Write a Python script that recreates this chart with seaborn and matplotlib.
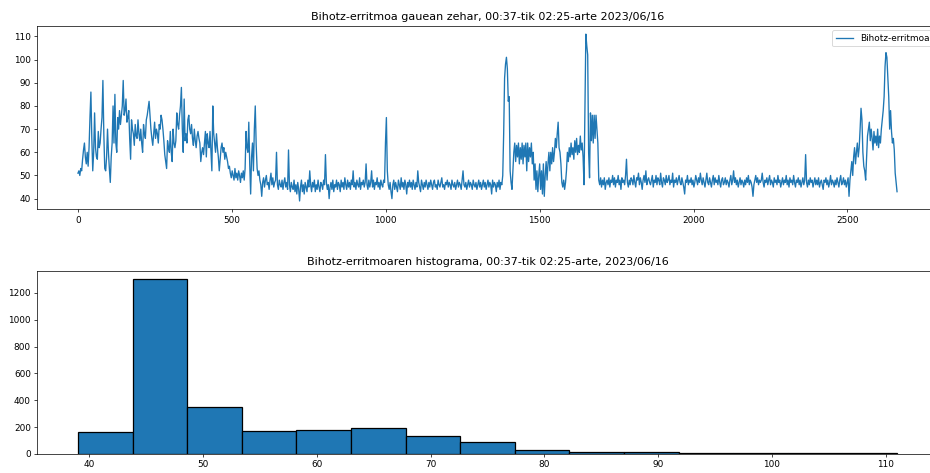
import numpy as np
import pandas as pd
import matplotlib
matplotlib.use("Agg")
import matplotlib.pyplot as plt
import seaborn as sns

# Heart-rate readings (bpm), one value every `sample_step` samples,
# 20 readings (60 samples) per row
sample_step = 3
heart_rate = [
    51, 52, 50, 53, 52, 57, 61, 64, 58, 55, 60, 54, 62, 75, 86, 66, 52, 60, 77, 62,
    58, 57, 69, 62, 64, 70, 75, 91, 68, 53, 52, 58, 70, 60, 53, 47, 58, 64, 80, 64,
    85, 64, 60, 75, 70, 78, 72, 76, 80, 91, 76, 78, 83, 73, 75, 78, 66, 57, 74, 70,
    68, 63, 72, 67, 66, 74, 68, 65, 70, 64, 60, 72, 68, 66, 74, 76, 79, 82, 76, 70,
    66, 63, 68, 73, 66, 70, 68, 64, 72, 70, 76, 74, 70, 65, 59, 56, 53, 65, 62, 60,
    69, 60, 56, 70, 64, 62, 65, 77, 72, 70, 76, 80, 88, 70, 60, 83, 65, 68, 64, 74,
    76, 70, 68, 72, 66, 63, 70, 65, 62, 67, 69, 66, 64, 56, 60, 62, 59, 64, 69, 58,
    68, 64, 62, 69, 60, 52, 80, 68, 64, 60, 68, 62, 58, 52, 57, 62, 64, 60, 62, 57,
    60, 58, 56, 53, 54, 51, 49, 52, 50, 48, 53, 49, 51, 48, 52, 50, 47, 51, 49, 52,
    48, 53, 69, 62, 60, 73, 55, 42, 58, 64, 52, 70, 80, 63, 53, 50, 52, 48, 46, 41,
    47, 49, 45, 48, 50, 46, 47, 44, 48, 51, 46, 49, 45, 47, 48, 60, 46, 44, 48, 46,
    45, 48, 44, 47, 49, 45, 47, 44, 61, 46, 43, 47, 45, 44, 48, 43, 46, 42, 47, 44,
    39, 45, 48, 43, 46, 42, 47, 45, 43, 48, 45, 52, 46, 43, 47, 45, 48, 43, 46, 44,
    48, 45, 43, 47, 46, 44, 48, 46, 59, 47, 44, 46, 40, 45, 47, 44, 48, 43, 46, 45,
    48, 44, 47, 46, 43, 48, 45, 47, 44, 49, 46, 44, 48, 45, 47, 44, 48, 46, 52, 45,
    47, 44, 48, 46, 45, 49, 44, 47, 46, 48, 45, 47, 55, 46, 44, 48, 45, 47, 52, 45,
    48, 44, 47, 46, 49, 45, 47, 44, 48, 46, 45, 48, 47, 64, 75, 52, 46, 44, 47, 43,
    40, 46, 48, 44, 47, 45, 43, 48, 46, 44, 49, 45, 47, 44, 48, 46, 42, 47, 45, 48,
    45, 47, 44, 48, 46, 44, 47, 45, 52, 47, 45, 43, 48, 46, 44, 47, 45, 48, 46, 44,
    47, 45, 48, 46, 44, 47, 48, 45, 46, 44, 48, 46, 45, 47, 49, 45, 46, 44, 47, 46,
    48, 45, 47, 46, 44, 48, 46, 45, 47, 44, 46, 48, 45, 47, 46, 44, 48, 52, 46, 45,
    47, 44, 46, 48, 45, 47, 46, 44, 48, 46, 45, 47, 44, 46, 48, 45, 47, 44, 46, 48,
    45, 47, 44, 46, 48, 45, 47, 46, 42, 48, 45, 47, 46, 43, 47, 45, 48, 44, 47, 46,
    50, 68, 92, 98, 101, 96, 82, 84, 52, 47, 44, 52, 60, 64, 56, 63, 58, 64, 55, 62,
    57, 64, 55, 63, 58, 64, 52, 64, 56, 62, 58, 64, 55, 60, 48, 55, 44, 52, 43, 50,
    55, 44, 52, 42, 55, 41, 50, 56, 48, 55, 60, 52, 60, 55, 62, 56, 60, 66, 62, 68,
    73, 62, 60, 55, 47, 45, 48, 44, 47, 52, 60, 56, 62, 58, 64, 59, 62, 57, 65, 60,
    66, 59, 63, 60, 67, 61, 64, 58, 46, 80, 111, 106, 102, 60, 49, 77, 65, 76, 64, 76,
    66, 76, 70, 64, 48, 46, 49, 45, 48, 46, 49, 44, 47, 48, 46, 49, 45, 48, 47, 50,
    46, 49, 45, 48, 47, 50, 46, 48, 44, 49, 47, 48, 46, 50, 57, 47, 45, 48, 46, 49,
    48, 46, 50, 47, 45, 49, 48, 51, 46, 49, 47, 44, 48, 50, 47, 52, 46, 48, 49, 47,
    46, 48, 50, 45, 48, 47, 50, 46, 49, 48, 46, 51, 47, 45, 49, 48, 46, 50, 47, 48,
    50, 46, 48, 47, 51, 45, 48, 47, 49, 46, 48, 50, 47, 46, 49, 47, 45, 42, 48, 47,
    50, 46, 48, 47, 49, 46, 48, 45, 47, 50, 48, 46, 49, 47, 51, 48, 46, 49, 47, 45,
    48, 51, 47, 46, 49, 47, 45, 48, 50, 46, 49, 47, 48, 46, 50, 47, 45, 48, 49, 46,
    47, 49, 46, 48, 47, 45, 48, 50, 46, 48, 52, 47, 49, 46, 48, 45, 47, 49, 46, 48,
    47, 45, 48, 46, 49, 47, 50, 46, 48, 47, 45, 41, 46, 48, 50, 47, 49, 46, 48, 47,
    48, 51, 47, 45, 48, 47, 49, 46, 48, 50, 46, 48, 47, 45, 49, 47, 48, 46, 50, 47,
    48, 45, 47, 49, 46, 48, 47, 50, 46, 48, 45, 49, 47, 48, 46, 50, 47, 45, 48, 47,
    49, 46, 48, 45, 47, 49, 46, 48, 59, 47, 45, 48, 46, 49, 47, 48, 45, 47, 49, 46,
    48, 46, 49, 45, 47, 48, 46, 44, 48, 47, 49, 46, 48, 45, 47, 50, 46, 48, 47, 45,
    48, 46, 49, 47, 45, 48, 50, 46, 47, 49, 46, 48, 45, 47, 49, 41, 48, 52, 56, 50,
    58, 62, 55, 60, 64, 58, 62, 70, 79, 74, 60, 54, 52, 48, 58, 67, 70, 73, 65, 70,
    66, 61, 69, 64, 67, 63, 70, 62, 67, 64, 70, 74, 78, 84, 97, 103, 101, 92, 84, 70,
    78, 69, 64, 66, 61, 51, 47, 43,
]

# Histogram of the same night: 15 equal bins between 39 and 111 bpm
bin_edges = [39.0, 43.8, 48.6, 53.4, 58.2, 63.0, 67.8, 72.6, 77.4,
             82.2, 87.0, 91.8, 96.6, 101.4, 106.2, 111.0]
bin_counts = [166, 1300, 347, 171, 176, 191, 136, 92, 32, 14, 13, 9, 5, 5, 5]

title_line = "Bihotz-erritmoa gauean zehar, 00:37-tik 02:25-arte 2023/06/16"
title_hist = "Bihotz-erritmoaren histograma, 00:37-tik 02:25-arte, 2023/06/16"
series_label = "Bihotz-erritmoa"

k = 0.64
plt.rcParams.update({
    "font.family": ["DejaVu Sans"],
    "font.size": 10 * k,
    "axes.titlesize": 8.0,
    "axes.titlepad": 6 * k,
    "axes.linewidth": 0.8 * k,
    "lines.linewidth": 1.5 * k,
    "legend.fontsize": 10 * k,
    "xtick.major.size": 3.5 * k,
    "ytick.major.size": 3.5 * k,
    "xtick.major.width": 0.8 * k,
    "ytick.major.width": 0.8 * k,
    "xtick.major.pad": 3.5 * k,
    "ytick.major.pad": 3.5 * k,
    "patch.linewidth": 1.0 * k,
})

fig = plt.figure(figsize=(9.3, 4.73), dpi=100)
ax1 = fig.add_axes([0.0398, 0.5575, 0.9688, 0.388])
ax2 = fig.add_axes([0.0398, 0.0402, 0.9688, 0.3875])

df = pd.DataFrame({
    "sample": np.arange(len(heart_rate)) * sample_step,
    "bpm": heart_rate,
})
sns.lineplot(data=df, x="sample", y="bpm", ax=ax1, color="#1f77b4",
             label=series_label)
ax1.set_xlabel("")
ax1.set_ylabel("")
ax1.set_title(title_line)
ax1.legend(loc="upper right")

centers = (np.array(bin_edges[:-1]) + np.array(bin_edges[1:])) / 2
sns.histplot(x=centers, weights=bin_counts, bins=bin_edges, ax=ax2,
             color="#1f77b4", edgecolor="black", alpha=1.0, linewidth=0.9)
ax2.set_xlabel("")
ax2.set_ylabel("")
ax2.set_title(title_hist)

fig.savefig("out.png", dpi=100)
